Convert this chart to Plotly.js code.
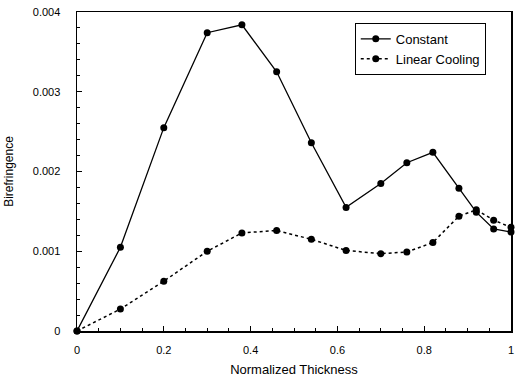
<!DOCTYPE html>
<html>
<head>
<meta charset="utf-8">
<script src="https://cdn.plot.ly/plotly-3.0.1.min.js"></script>
<style>
  html, body { margin: 0; padding: 0; background: #fff; }
  #chart { width: 516px; height: 385px; }
</style>
</head>
<body>
<div id="chart"></div>
<script>
// Normalized thickness positions through the part
var thickness = [0, 0.1, 0.2, 0.3, 0.38, 0.46, 0.54, 0.62, 0.7, 0.76, 0.82, 0.88, 0.92, 0.96, 1.0];

// Birefringence for each cooling condition
var constantCooling = [0, 0.00105, 0.00255, 0.00374, 0.00384, 0.00325, 0.00236, 0.00155, 0.00185, 0.00211, 0.00224, 0.00179, 0.00149, 0.00128, 0.00124];
var linearCooling   = [0, 0.000275, 0.000625, 0.00100, 0.00123, 0.00126, 0.00115, 0.00101, 0.00097, 0.00099, 0.00111, 0.00144, 0.00152, 0.00139, 0.00130];

var seriesNames = ['Constant', 'Linear Cooling'];

var xTickVals = [0, 0.2, 0.4, 0.6, 0.8, 1];
var xTickText = ['0', '0.2', '0.4', '0.6', '0.8', '1'];
var yTickVals = [0, 0.001, 0.002, 0.003, 0.004];
var yTickText = ['0', '0.001', '0.002', '0.003', '0.004'];

var fontFamily = 'Liberation Sans, Arial, sans-serif';

var traces = [
  {
    x: thickness, y: constantCooling, name: seriesNames[0],
    type: 'scatter', mode: 'lines+markers',
    line: { color: '#000', width: 1.3 },
    marker: { color: '#000', size: 7, symbol: 'circle' },
    cliponaxis: false
  },
  {
    x: thickness, y: linearCooling, name: seriesNames[1],
    type: 'scatter', mode: 'lines+markers',
    line: { color: '#000', width: 1.5, dash: '3px,3px' },
    marker: { color: '#000', size: 7, symbol: 'circle' },
    cliponaxis: false
  }
];

var layout = {
  width: 516, height: 385,
  margin: { l: 77, r: 5, t: 12, b: 54 },
  paper_bgcolor: '#fff', plot_bgcolor: '#fff',
  font: { family: fontFamily, size: 11, color: '#000' },
  showlegend: true,
  legend: {
    x: 0.64, y: 0.966, xanchor: 'left', yanchor: 'top',
    bgcolor: '#fff', bordercolor: '#000', borderwidth: 1,
    font: { family: fontFamily, size: 13, color: '#000' },
    tracegroupgap: 0, itemwidth: 30
  },
  xaxis: {
    range: [0, 1], tickvals: xTickVals, ticktext: xTickText,
    showgrid: false, zeroline: false,
    showline: true, linecolor: '#000', linewidth: 1.5, mirror: true,
    ticks: 'inside', ticklen: 5, tickcolor: '#000', tickwidth: 1,
    minor: { dtick: 0.05, ticks: 'inside', ticklen: 3, tickcolor: '#000', showgrid: false },
    tickfont: { size: 11 },
    ticklabelstandoff: 8,
    ticklabeloverflow: 'allow',
    title: { text: 'Normalized Thickness', font: { size: 13 }, standoff: 10 },
    automargin: false
  },
  yaxis: {
    range: [0, 0.004], tickvals: yTickVals, ticktext: yTickText,
    showgrid: false, zeroline: false,
    showline: true, linecolor: '#000', linewidth: 1.5, mirror: true,
    ticks: 'inside', ticklen: 5, tickcolor: '#000', tickwidth: 1,
    minor: { dtick: 0.0002, ticks: 'inside', ticklen: 3, tickcolor: '#000', showgrid: false },
    tickfont: { size: 11 },
    ticklabelstandoff: 13,
    title: { text: 'Birefringence', font: { size: 12 }, standoff: 16 },
    automargin: false
  }
};

Plotly.newPlot('chart', traces, layout, { displayModeBar: false, staticPlot: true });
</script>
</body>
</html>
